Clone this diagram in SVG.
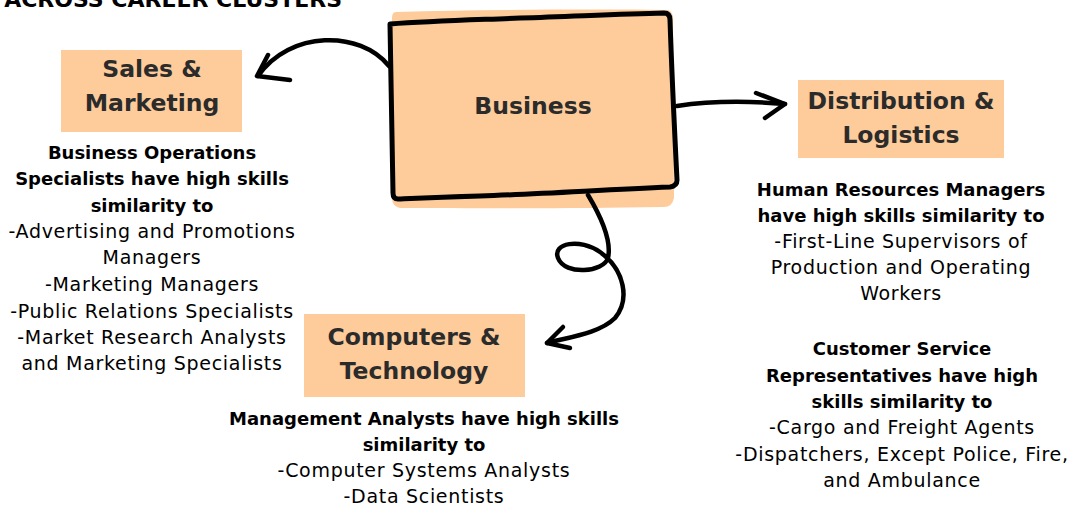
<svg xmlns="http://www.w3.org/2000/svg" width="1075" height="506" viewBox="0 0 1075 506">
<style>
.box{fill:#FECB9A}
.hd{font-family:"DejaVu Sans",sans-serif;font-weight:bold;font-size:23.5px;fill:#2b2b2b;text-anchor:middle}
.b{font-family:"DejaVu Sans",sans-serif;font-weight:bold;font-size:18px;fill:#000;text-anchor:middle}
.r{font-family:"DejaVu Sans",sans-serif;font-size:19px;fill:#000;text-anchor:middle;letter-spacing:0.7px}
.ln{fill:none;stroke:#000;stroke-width:4.5;stroke-linecap:round;stroke-linejoin:round}
</style>
<rect width="1075" height="506" fill="#fff"/>
<text id="title" x="342" y="7" font-family="DejaVu Sans, sans-serif" font-weight="bold" font-size="22" text-anchor="end" fill="#000">ACROSS CAREER CLUSTERS</text>

<g id="business">
<path class="box" d="M396,12 C480,10 580,9 668,10 Q674,12 673,22 L674,198 Q672,208 662,207 C560,209 470,208 400,208 Q392,206 392,198 L392,18 Q392,12 396,12 Z"/>
<path d="M390,24 C430,21 470,20 520,18 C580,16 620,14 664,13 Q670,13 670,20 C672,80 675,140 677,180 Q677,186 670,187 C600,190 540,194 480,196 C440,197 420,198 398,199 Q393,199 393,193 C392,140 391,80 390,24 Z" fill="none" stroke="#000" stroke-width="5" stroke-linejoin="round"/>
<text class="hd" x="533" y="114" font-size="24">Business</text>
</g>

<g id="sales">
<rect class="box" x="61" y="50" width="181" height="82"/>
<text class="hd" x="152" y="77">Sales &amp;</text>
<text class="hd" x="152" y="111">Marketing</text>
</g>

<g id="distribution">
<rect class="box" x="798" y="80" width="206" height="78"/>
<text class="hd" x="901" y="109">Distribution &amp;</text>
<text class="hd" x="901" y="143">Logistics</text>
</g>

<g id="computers">
<rect class="box" x="304" y="314" width="221" height="83"/>
<text class="hd" x="414" y="345">Computers &amp;</text>
<text class="hd" x="414" y="379">Technology</text>
</g>

<g id="connectors">
<path class="ln" d="M389,66 C360,30 290,30 258,76"/>
<path class="ln" d="M268,55 L257,76 L290,80"/>
<path class="ln" d="M677,106 C710,101 750,101 785,104"/>
<path class="ln" d="M756,93 L785,104 L765,118"/>
<path class="ln" d="M588,195 C600,215 612,240 608,258 C604,272 565,276 558,258 C552,243 580,238 600,252 C625,270 630,300 615,318 C600,333 570,337 547,343"/>
<path class="ln" d="M563,327 L547,343 L570,348"/>
</g>

<g id="sales-text">
<text class="b" x="152" y="159">Business Operations</text>
<text class="b" x="152" y="185">Specialists have high skills</text>
<text class="b" x="152" y="212">similarity to</text>
<text class="r" x="152" y="238">-Advertising and Promotions</text>
<text class="r" x="152" y="264">Managers</text>
<text class="r" x="152" y="291">-Marketing Managers</text>
<text class="r" x="152" y="318">-Public Relations Specialists</text>
<text class="r" x="152" y="344">-Market Research Analysts</text>
<text class="r" x="152" y="370">and Marketing Specialists</text>
</g>

<g id="computers-text">
<text class="b" x="424" y="425">Management Analysts have high skills</text>
<text class="b" x="424" y="451">similarity to</text>
<text class="r" x="424" y="477">-Computer Systems Analysts</text>
<text class="r" x="424" y="503">-Data Scientists</text>
</g>

<g id="distribution-text">
<text class="b" x="901" y="196">Human Resources Managers</text>
<text class="b" x="901" y="222">have high skills similarity to</text>
<text class="r" x="901" y="248">-First-Line Supervisors of</text>
<text class="r" x="901" y="274">Production and Operating</text>
<text class="r" x="901" y="300">Workers</text>
<text class="b" x="902" y="355">Customer Service</text>
<text class="b" x="902" y="382">Representatives have high</text>
<text class="b" x="902" y="408">skills similarity to</text>
<text class="r" x="902" y="434">-Cargo and Freight Agents</text>
<text class="r" x="902" y="461">-Dispatchers, Except Police, Fire,</text>
<text class="r" x="902" y="487">and Ambulance</text>
</g>
</svg>
